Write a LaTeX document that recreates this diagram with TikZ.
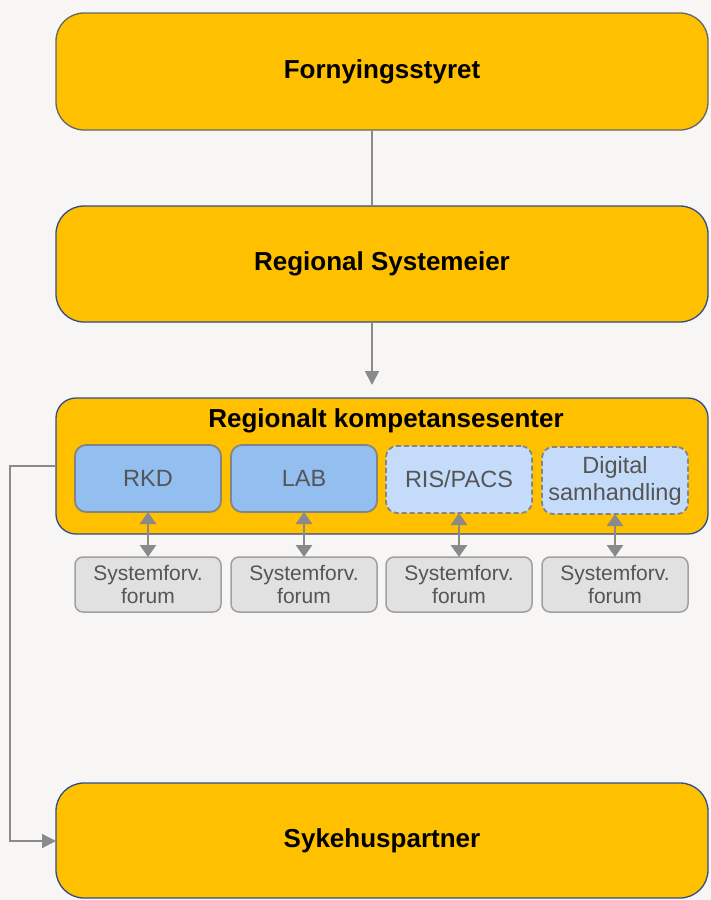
\documentclass[tikz,border=0pt]{standalone}
\usepackage{fontspec}
\setmainfont{Liberation Sans}
\usetikzlibrary{arrows.meta}
\definecolor{amber}{HTML}{FFC000}
\definecolor{edgeblue}{HTML}{2E4E8C}
\definecolor{modblue}{HTML}{92BEF0}
\definecolor{modlight}{HTML}{C4DCFA}
\definecolor{modline}{HTML}{858585}
\definecolor{forumfill}{HTML}{E1E1E1}
\definecolor{forumline}{HTML}{A0A0A0}
\definecolor{linkgray}{HTML}{8A8A8A}
\definecolor{txtgray}{HTML}{555555}
\definecolor{paper}{HTML}{F8F6F5}
\tikzset{
  x=1pt, y=-1pt,
  headline/.style={font=\fontsize{26}{30}\selectfont\bfseries, text=black},
  level/.style={draw=edgeblue, line width=1.3pt, fill=amber, rounded corners=28pt,
    minimum width=652pt, inner sep=0pt, outer sep=0pt, headline},
  module/.style={draw=modline, line width=1.8pt, fill=modblue, rounded corners=11pt,
    minimum width=146pt, minimum height=67pt, inner sep=0pt, outer sep=0pt,
    align=center, font=\fontsize{23.5}{27}\selectfont, text=txtgray},
  planned/.style={module, fill=modlight, dashed, dash pattern=on 5pt off 3pt},
  forum/.style={draw=forumline, line width=1.5pt, fill=forumfill, rounded corners=8pt,
    minimum width=146pt, minimum height=55pt, inner sep=0pt, outer sep=0pt,
    align=center, font=\fontsize{21}{22.5}\selectfont, text=txtgray},
  link/.style={draw=linkgray, line width=1.6pt},
  tip/.style={-{Triangle[width=14pt,length=14pt]}},
  twoway/.style={{Triangle[width=16pt,length=12pt]}-{Triangle[width=16pt,length=12pt]}},
}
\begin{document}
\begin{tikzpicture}
\fill[paper] (0,0) rectangle (711,900);
\useasboundingbox (0,0) rectangle (711,900);

% governance levels
\node[level, draw=black!60, minimum height=117pt] (fs) at (382,71.5) {Fornyingsstyret};
\node[level, minimum height=116pt] (rs) at (382,264) {Regional Systemeier};
\node[level, rounded corners=20pt, minimum height=136pt] (rk) at (382,466) {};
\node[headline, inner sep=0pt] (rkt) at (386,421) {Regionalt kompetansesenter};
\node[level, minimum height=115pt] (sp) at (382,840.5) {Sykehuspartner};

% system areas inside the competence centre
\node[module] (rkd) at (148,478.5) {RKD};
\node[module] (lab) at (304,478.5) {LAB};
\node[planned] (ris) at (459,479.5) {RIS/PACS};
\node[planned] (dig) at (615,480.5) {Digital\\samhandling};

% system management forums
\node[forum] (f1) at (148,584.5) {Systemforv.\\forum};
\node[forum] (f2) at (304,584.5) {Systemforv.\\forum};
\node[forum] (f3) at (459,584.5) {Systemforv.\\forum};
\node[forum] (f4) at (615,584.5) {Systemforv.\\forum};

% connectors
\coordinate (spine) at (372,0);
\coordinate (arrowend) at (372,385);
\coordinate (tapin) at (56,466);
\coordinate (bendA) at (10,466);
\coordinate (bendB) at (10,841);
\draw[link, line width=1.3pt] (fs.south -| spine) -- (rs.north -| spine);
\draw[link, line width=1.8pt, tip] (rs.south -| spine) -- (arrowend);
\draw[link, line width=1.5pt, tip] (tapin) -- (bendA) -- (bendB) -- (bendB -| sp.west);

\foreach \m/\f in {rkd/f1, lab/f2, ris/f3, dig/f4}
  \draw[link, line width=2.6pt, twoway] (\m.south) -- (\f.north);
\end{tikzpicture}
\end{document}
